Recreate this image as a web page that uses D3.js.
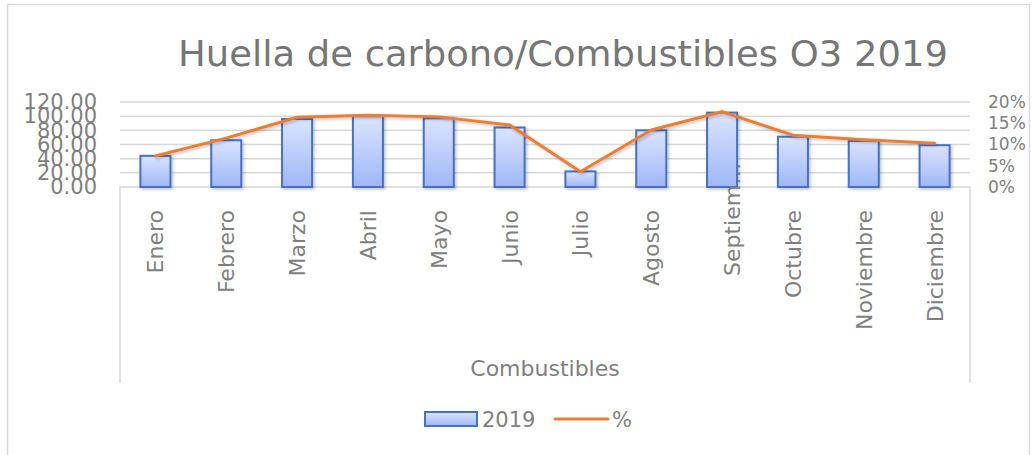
<!DOCTYPE html>
<html>
<head>
<meta charset="utf-8">
<script src="https://d3js.org/d3.v7.min.js"></script>
<style>
  body { margin: 0; background: #fff; }
  text { font-family: "DejaVu Sans", sans-serif; fill: #7f7f7f; }
</style>
</head>
<body>
<div id="chart"></div>
<script>
// data
const months = ["Enero","Febrero","Marzo","Abril","Mayo","Junio","Julio","Agosto","Septiembre","Octubre","Noviembre","Diciembre"];
const monthLabels = ["Enero","Febrero","Marzo","Abril","Mayo","Junio","Julio","Agosto","Septiem…","Octubre","Noviembre","Diciembre"];
const values2019 = [44, 66, 96, 100, 97, 84, 22, 80, 105, 71, 65, 59];
const percent = [0.073, 0.115, 0.164, 0.169, 0.165, 0.146, 0.036, 0.134, 0.177, 0.122, 0.111, 0.103];
const leftTicks = [0, 20, 40, 60, 80, 100, 120];
const rightTicks = [0, 0.05, 0.10, 0.15, 0.20];

const W = 1034, H = 455;
const plot = {left: 120, right: 970, top: 102, bottom: 187};

const svg = d3.select("#chart").append("svg")
  .attr("width", W).attr("height", H);

const defs = svg.append("defs");
const grad = defs.append("linearGradient").attr("id", "barGrad")
  .attr("x1", 0).attr("y1", 0).attr("x2", 0).attr("y2", 1);
grad.append("stop").attr("offset", "0%").attr("stop-color", "#dbe4fe");
grad.append("stop").attr("offset", "100%").attr("stop-color", "#9fb7f7");

const shadow = defs.append("filter").attr("id", "shadow")
  .attr("x", "-20%").attr("y", "-20%").attr("width", "140%").attr("height", "140%");
shadow.append("feDropShadow").attr("dx", 1.5).attr("dy", 1.5)
  .attr("stdDeviation", 1.5).attr("flood-color", "#000").attr("flood-opacity", 0.25);

// outer frame
svg.append("rect").attr("x", 7.5).attr("y", 4.5).attr("width", 1022).attr("height", 470)
  .attr("fill", "none").attr("stroke", "#d9d9d9").attr("stroke-width", 1.5);

// title
svg.append("text")
  .attr("x", 563).attr("y", 66)
  .attr("text-anchor", "middle")
  .attr("font-size", 36)
  .attr("textLength", 770).attr("lengthAdjust", "spacingAndGlyphs")
  .style("fill", "#767676")
  .text("Huella de carbono/Combustibles O3 2019");

// scales
const x = d3.scaleBand().domain(months)
  .range([plot.left, plot.right])
  .paddingInner(0.576).paddingOuter(0.288);
const y = d3.scaleLinear().domain([0, 120]).range([plot.bottom, plot.top]);
const y2 = d3.scaleLinear().domain([0, 0.2]).range([plot.bottom, plot.top]);

// grid
svg.append("g")
  .selectAll("line").data(leftTicks.slice(1)).join("line")
  .attr("x1", plot.left).attr("x2", plot.right)
  .attr("y1", d => y(d)).attr("y2", d => y(d))
  .attr("stroke", "#d9d9d9").attr("stroke-width", 1.5);

// left axis (labels overlap, as in the original)
const yAxis = svg.append("g")
  .attr("transform", `translate(${plot.left},0)`)
  .call(d3.axisLeft(y).tickValues(leftTicks).tickFormat(d3.format(".2f")).tickSize(0).tickPadding(23));
yAxis.select(".domain").remove();
yAxis.selectAll("text").attr("font-size", 21).style("fill", "#7f7f7f")
  .attr("font-family", "DejaVu Sans");

// right axis
const y2Axis = svg.append("g")
  .attr("transform", `translate(${plot.right},0)`)
  .call(d3.axisRight(y2).tickValues(rightTicks).tickFormat(d3.format(".0%")).tickSize(0).tickPadding(18));
y2Axis.select(".domain").remove();
y2Axis.selectAll("text").attr("font-size", 17).style("fill", "#7f7f7f")
  .attr("font-family", "DejaVu Sans");

// category axis box
svg.append("path")
  .attr("d", `M${plot.left},383 V${plot.bottom} H${plot.right} V383`)
  .attr("fill", "none").attr("stroke", "#d9d9d9").attr("stroke-width", 1.5);

// bars
svg.append("g").selectAll("rect").data(values2019).join("rect")
  .attr("x", (d, i) => x(months[i]))
  .attr("width", x.bandwidth())
  .attr("y", d => y(d))
  .attr("height", d => plot.bottom - y(d))
  .attr("fill", "url(#barGrad)")
  .attr("stroke", "#4472c4").attr("stroke-width", 2)
  .attr("filter", "url(#shadow)");

// percent line
const line = d3.line()
  .x((d, i) => x(months[i]) + x.bandwidth() / 2)
  .y(d => y2(d));
svg.append("path").datum(percent)
  .attr("d", line)
  .attr("fill", "none").attr("stroke", "#ed7d31").attr("stroke-width", 3)
  .attr("stroke-linejoin", "round").attr("stroke-linecap", "round")
  .attr("filter", "url(#shadow)");

// category labels
svg.append("g").selectAll("text").data(monthLabels).join("text")
  .attr("transform", (d, i) => {
    const cx = x(months[i]) + x.bandwidth() / 2;
    if (d.endsWith("…")) return `translate(${cx + 18},276) rotate(-90)`;
    return `translate(${cx + 8},210) rotate(-90)`;
  })
  .attr("text-anchor", d => d.endsWith("…") ? "start" : "end")
  .attr("font-size", 22)
  .text(d => d);

// axis title
svg.append("text")
  .attr("x", 545).attr("y", 376)
  .attr("text-anchor", "middle")
  .attr("font-size", 22)
  .text("Combustibles");

// legend
const lg = svg.append("g");
lg.append("rect").attr("x", 425).attr("y", 412).attr("width", 52).attr("height", 14)
  .attr("fill", "url(#barGrad)").attr("stroke", "#4472c4").attr("stroke-width", 2);
lg.append("text").attr("x", 482).attr("y", 427).attr("font-size", 21).text("2019");
lg.append("line").attr("x1", 555).attr("x2", 608).attr("y1", 419).attr("y2", 419)
  .attr("stroke", "#ed7d31").attr("stroke-width", 3).attr("stroke-linecap", "round");
lg.append("text").attr("x", 612).attr("y", 427).attr("font-size", 21).text("%");
</script>
</body>
</html>
